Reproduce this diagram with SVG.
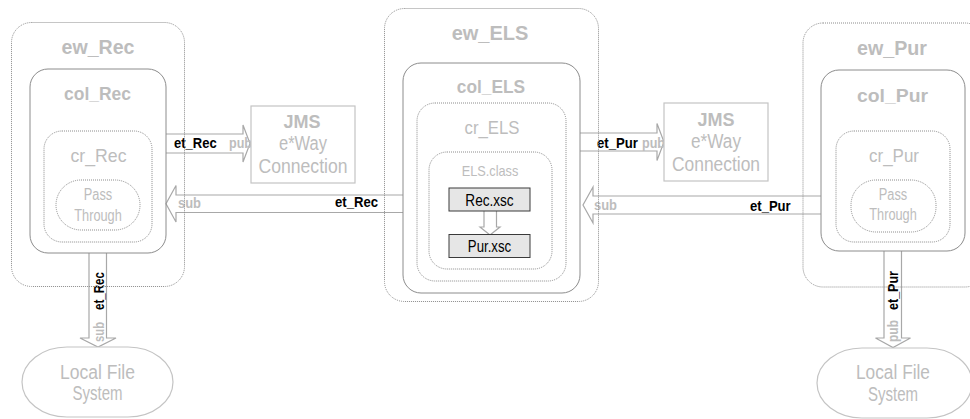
<svg xmlns="http://www.w3.org/2000/svg" width="970" height="419" viewBox="0 0 970 419">
<style>
.dot{fill:none;stroke:#8c8c8c;stroke-width:1;stroke-dasharray:1 1}
.sol{fill:none;stroke:#8c8c8c;stroke-width:1}
.box{fill:#fff;stroke:#c4c4c4;stroke-width:1.2}
.arr{fill:#fff;stroke:#a8a8a8;stroke-width:1.2}
.xsc{fill:#e6e6e6;stroke:#3a3a3a;stroke-width:1}
text{font-family:"Liberation Sans Narrow","Liberation Sans",Arial,sans-serif;fill:#bdbdbd}
.ew{font-size:20px;font-weight:bold;text-anchor:middle}
.col{font-size:19px;font-weight:bold;text-anchor:middle}
.cr{font-size:19px;text-anchor:middle}
.pt{font-size:16px;text-anchor:middle}
.jb{font-size:18px;font-weight:bold;text-anchor:middle}
.jr{font-size:20px;text-anchor:middle}
.et{font-size:14px;font-weight:bold;fill:#000}
.ps{font-size:14px;font-weight:bold;fill:#bdbdbd}
.lf{font-size:20px;text-anchor:middle}
.cls{font-size:15px;text-anchor:middle}
.x{font-size:16px;text-anchor:middle;fill:#000}
</style>
<g id="connectors">
<path class="arr" d="M166,134 L243,134 L243,125 L250,143.5 L243,162 L243,153 L166,153"/>
<path class="arr" d="M403,195 L176,195 L176,185.5 L166,203.7 L176,222 L176,212.5 L403,212.5"/>
<path class="arr" d="M580,133 L657,133 L657,123.5 L664,142 L657,160.5 L657,151 L580,151"/>
<path class="arr" d="M821,196 L593,196 L593,187 L583,205 L593,223 L593,214 L821,214"/>
<path class="arr" d="M89,253 L89,338 L80,338 L98,347 L116,338 L106.5,338 L106.5,253"/>
<path class="arr" d="M884,251 L884,338 L875.5,338 L893,347.5 L910.5,338 L901.5,338 L901.5,251"/>
<path class="arr" d="M484,211 L484,227 L480,227 L490,235 L500,227 L496.5,227 L496.5,211"/>
<text class="et" x="174" y="148" textLength="42.7" lengthAdjust="spacingAndGlyphs">et_Rec</text>
<text class="ps" x="229" y="148" textLength="23" lengthAdjust="spacingAndGlyphs">pub</text>
<text class="ps" x="178" y="208" textLength="23" lengthAdjust="spacingAndGlyphs">sub</text>
<text class="et" x="335" y="207" textLength="43" lengthAdjust="spacingAndGlyphs">et_Rec</text>
<text class="et" x="597" y="147.5" textLength="41" lengthAdjust="spacingAndGlyphs">et_Pur</text>
<text class="ps" x="642" y="147.5" textLength="23" lengthAdjust="spacingAndGlyphs">pub</text>
<text class="ps" x="594" y="209.5" textLength="23" lengthAdjust="spacingAndGlyphs">sub</text>
<text class="et" x="750" y="211" textLength="40.7" lengthAdjust="spacingAndGlyphs">et_Pur</text>
<text class="et" transform="translate(104,310) rotate(-90)" textLength="38" lengthAdjust="spacingAndGlyphs">et_Rec</text>
<text class="ps" transform="translate(104,342) rotate(-90)" textLength="20" lengthAdjust="spacingAndGlyphs">sub</text>
<text class="et" transform="translate(898,310) rotate(-90)" textLength="39" lengthAdjust="spacingAndGlyphs">et_Pur</text>
<text class="ps" transform="translate(898,342) rotate(-90)" textLength="22" lengthAdjust="spacingAndGlyphs">pub</text>
</g>
<g id="ew_Rec">
<rect class="dot" x="11.5" y="22.5" width="173" height="264" rx="20"/>
<text class="ew" x="98" y="54" textLength="73" lengthAdjust="spacingAndGlyphs">ew_Rec</text>
</g>
<g id="col_Rec">
<rect class="sol" x="30" y="69" width="136" height="184" rx="18"/>
<text class="col" x="97.5" y="99.5" textLength="67" lengthAdjust="spacingAndGlyphs">col_Rec</text>
</g>
<g id="cr_Rec">
<rect class="dot" x="44" y="131" width="108" height="111" rx="18"/>
<text class="cr" x="98.5" y="162" textLength="56" lengthAdjust="spacingAndGlyphs">cr_Rec</text>
</g>
<g id="pass_Rec">
<rect class="dot" x="56" y="180" width="84" height="50" rx="25"/>
<text class="pt" x="98" y="199.5" textLength="28.5" lengthAdjust="spacingAndGlyphs">Pass</text>
<text class="pt" x="98" y="220.5" textLength="47.5" lengthAdjust="spacingAndGlyphs">Through</text>
</g>
<g id="jms_Rec">
<rect class="box" x="251" y="106" width="104" height="77"/>
<text class="jb" x="302" y="128" textLength="37" lengthAdjust="spacingAndGlyphs">JMS</text>
<text class="jr" x="303" y="150" textLength="48" lengthAdjust="spacingAndGlyphs">e*Way</text>
<text class="jr" x="303" y="172.5" textLength="89" lengthAdjust="spacingAndGlyphs">Connection</text>
</g>
<g id="lfs_Rec">
<rect class="box" x="22" y="347" width="151" height="70" rx="45" ry="35"/>
<text class="lf" x="97.5" y="378.5" textLength="75" lengthAdjust="spacingAndGlyphs">Local File</text>
<text class="lf" x="97.5" y="399.5" textLength="50" lengthAdjust="spacingAndGlyphs">System</text>
</g>
<g id="ew_ELS">
<rect class="dot" x="384.5" y="8.5" width="214" height="293" rx="20"/>
<text class="ew" x="490" y="40" textLength="76.7" lengthAdjust="spacingAndGlyphs">ew_ELS</text>
</g>
<g id="col_ELS">
<rect class="sol" x="403" y="63" width="177" height="230" rx="18"/>
<text class="col" x="491" y="93" textLength="68.3" lengthAdjust="spacingAndGlyphs">col_ELS</text>
</g>
<g id="cr_ELS">
<rect class="dot" x="417" y="103" width="149" height="178" rx="18"/>
<text class="cr" x="492" y="133.5" textLength="55" lengthAdjust="spacingAndGlyphs">cr_ELS</text>
</g>
<g id="ELS_class">
<rect class="dot" x="429" y="152" width="123" height="117" rx="18"/>
<text class="cls" x="490" y="176" textLength="56.7" lengthAdjust="spacingAndGlyphs">ELS.class</text>
</g>
<g id="Rec_xsc">
<rect class="xsc" x="449" y="188" width="81" height="23"/>
<text class="x" x="489.5" y="205.5" textLength="48.3" lengthAdjust="spacingAndGlyphs">Rec.xsc</text>
</g>
<g id="Pur_xsc">
<rect class="xsc" x="449" y="234.5" width="81" height="23"/>
<text class="x" x="489.5" y="252" textLength="43.3" lengthAdjust="spacingAndGlyphs">Pur.xsc</text>
</g>
<g id="jms_Pur">
<rect class="box" x="664" y="103" width="104" height="78"/>
<text class="jb" x="716" y="126" textLength="37" lengthAdjust="spacingAndGlyphs">JMS</text>
<text class="jr" x="716" y="148" textLength="50" lengthAdjust="spacingAndGlyphs">e*Way</text>
<text class="jr" x="716" y="170.5" textLength="88" lengthAdjust="spacingAndGlyphs">Connection</text>
</g>
<g id="ew_Pur">
<rect class="dot" x="803" y="23" width="182" height="264" rx="20"/>
<text class="ew" x="892" y="55" textLength="70" lengthAdjust="spacingAndGlyphs">ew_Pur</text>
</g>
<g id="col_Pur">
<rect class="sol" x="821" y="70" width="144" height="181" rx="18"/>
<text class="col" x="892.5" y="101.5" textLength="71" lengthAdjust="spacingAndGlyphs">col_Pur</text>
</g>
<g id="cr_Pur">
<rect class="dot" x="836" y="131" width="114" height="111" rx="18"/>
<text class="cr" x="894" y="162" textLength="50" lengthAdjust="spacingAndGlyphs">cr_Pur</text>
</g>
<g id="pass_Pur">
<rect class="dot" x="851" y="180" width="85" height="52" rx="25"/>
<text class="pt" x="893" y="200" textLength="28.5" lengthAdjust="spacingAndGlyphs">Pass</text>
<text class="pt" x="893" y="220" textLength="47.5" lengthAdjust="spacingAndGlyphs">Through</text>
</g>
<g id="lfs_Pur">
<rect class="box" x="817" y="348" width="155" height="70" rx="45" ry="35"/>
<text class="lf" x="893" y="378.5" textLength="74" lengthAdjust="spacingAndGlyphs">Local File</text>
<text class="lf" x="893" y="400.5" textLength="50" lengthAdjust="spacingAndGlyphs">System</text>
</g>
</svg>
